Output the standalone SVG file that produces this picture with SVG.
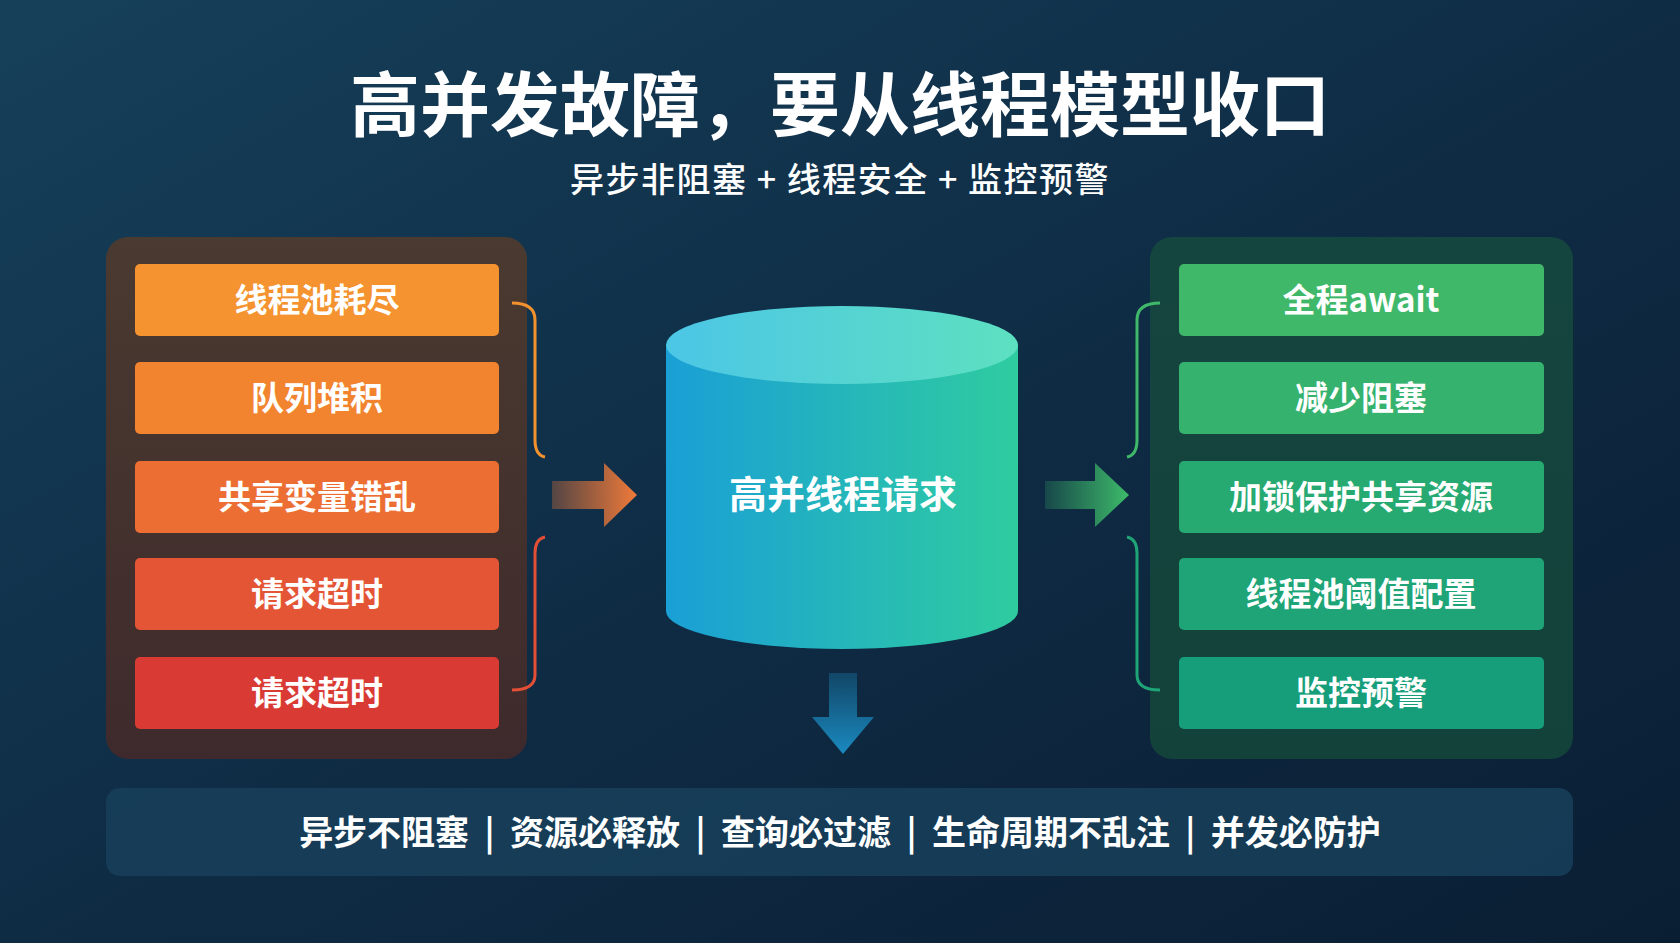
<svg xmlns="http://www.w3.org/2000/svg" width="1680" height="943" viewBox="0 0 1680 943">
<defs>
<linearGradient id="bg" x1="0" y1="0" x2="1" y2="1"><stop offset="0" stop-color="#16405a"/><stop offset="0.5" stop-color="#0f2c45"/><stop offset="1" stop-color="#0a1e33"/></linearGradient>
<linearGradient id="lp" x1="0" y1="0" x2="0" y2="1"><stop offset="0" stop-color="#4a3a30"/><stop offset="1" stop-color="#3e2a2c"/></linearGradient>
<linearGradient id="rp" x1="0" y1="0" x2="0" y2="1"><stop offset="0" stop-color="#15453f"/><stop offset="1" stop-color="#124239"/></linearGradient>
<linearGradient id="cyl" x1="0" y1="0" x2="1" y2="0"><stop offset="0" stop-color="#1a9fd6"/><stop offset="1" stop-color="#2fcca0"/></linearGradient>
<linearGradient id="cyltop" x1="0" y1="0" x2="1" y2="0"><stop offset="0" stop-color="#4cc6e6"/><stop offset="1" stop-color="#5de0c0"/></linearGradient>
<linearGradient id="la" x1="0" y1="0" x2="1" y2="0"><stop offset="0" stop-color="#f07a3a" stop-opacity="0.3"/><stop offset="1" stop-color="#f07a3a"/></linearGradient>
<linearGradient id="ra" x1="0" y1="0" x2="1" y2="0"><stop offset="0" stop-color="#3dbb6a" stop-opacity="0.2"/><stop offset="1" stop-color="#3dbb6a"/></linearGradient>
<linearGradient id="da" x1="0" y1="0" x2="0" y2="1"><stop offset="0" stop-color="#1a8ac0" stop-opacity="0.3"/><stop offset="1" stop-color="#1a8ac0"/></linearGradient>
</defs>
<style>
text{font-family:"Noto Sans CJK SC","Noto Sans",sans-serif;font-weight:700;text-anchor:middle;fill:#fff}
.bx text{font-size:33px}
.br{fill:none;stroke-width:3}
</style>
<rect width="1680" height="943" fill="url(#bg)"/>
<text x="840" y="131" font-size="70">高并发故障，要从线程模型收口</text>
<text x="840" y="192" font-size="34" style="font-weight:500;letter-spacing:1.5px">异步非阻塞 + 线程安全 + 监控预警</text>
<g id="left-panel"><rect x="106" y="237" width="421" height="522" rx="22" fill="url(#lp)"/></g>
<g id="right-panel"><rect x="1150" y="237" width="423" height="522" rx="22" fill="url(#rp)"/></g>
<g class="bx">
<g id="l1"><rect x="135" y="264" width="364" height="72" rx="5" fill="#f4932f"/><text x="317" y="312">线程池耗尽</text></g>
<g id="l2"><rect x="135" y="362" width="364" height="72" rx="5" fill="#f2842f"/><text x="317" y="410">队列堆积</text></g>
<g id="l3"><rect x="135" y="461" width="364" height="72" rx="5" fill="#ec6e32"/><text x="317" y="509">共享变量错乱</text></g>
<g id="l4"><rect x="135" y="558" width="364" height="72" rx="5" fill="#e45535"/><text x="317" y="606">请求超时</text></g>
<g id="l5"><rect x="135" y="657" width="364" height="72" rx="5" fill="#d93b34"/><text x="317" y="705">请求超时</text></g>
<g id="r1"><rect x="1179" y="264" width="365" height="72" rx="5" fill="#40b86a"/><text x="1361" y="312">全程await</text></g>
<g id="r2"><rect x="1179" y="362" width="365" height="72" rx="5" fill="#35b26e"/><text x="1361" y="410">减少阻塞</text></g>
<g id="r3"><rect x="1179" y="461" width="365" height="72" rx="5" fill="#27aa72"/><text x="1361" y="509">加锁保护共享资源</text></g>
<g id="r4"><rect x="1179" y="558" width="365" height="72" rx="5" fill="#1ea476"/><text x="1361" y="606">线程池阈值配置</text></g>
<g id="r5"><rect x="1179" y="657" width="365" height="72" rx="5" fill="#169e7a"/><text x="1361" y="705">监控预警</text></g>
</g>
<g id="center">
<path d="M666 345 V611 A176 38 0 0 0 1018 611 V345 Z" fill="url(#cyl)"/>
<ellipse cx="842" cy="345" rx="176" ry="39" fill="url(#cyltop)"/>
<text x="843" y="508" font-size="38">高并线程请求</text>
</g>
<g id="connectors">
<path d="M512 303 Q535 303 535 320 V440 Q535 455 545 457" class="br" stroke="#f2922f"/>
<path d="M545 537 Q535 539 535 553 V675 Q535 690 512 690" class="br" stroke="#e24e36"/>
<path d="M1160 303 Q1137 303 1137 320 V440 Q1137 455 1127 457" class="br" stroke="#40b86a"/>
<path d="M1127 537 Q1137 539 1137 553 V675 Q1137 690 1160 690" class="br" stroke="#1ea476"/>
<polygon points="552,481 604,481 604,463 637,495 604,527 604,509 552,509" fill="url(#la)"/>
<polygon points="1045,481 1095,481 1095,463 1129,495 1095,527 1095,509 1045,509" fill="url(#ra)"/>
<polygon points="829,673 857,673 857,717 874,717 843,754 812,717 829,717" fill="url(#da)"/>
</g>
<g id="bottom">
<rect x="106" y="788" width="1467" height="88" rx="14" fill="#17405a" opacity="0.85"/>
<text x="840" y="845" font-size="34" xml:space="preserve">异步不阻塞  |  资源必释放  |  查询必过滤  |  生命周期不乱注  |  并发必防护</text>
</g>
</svg>
